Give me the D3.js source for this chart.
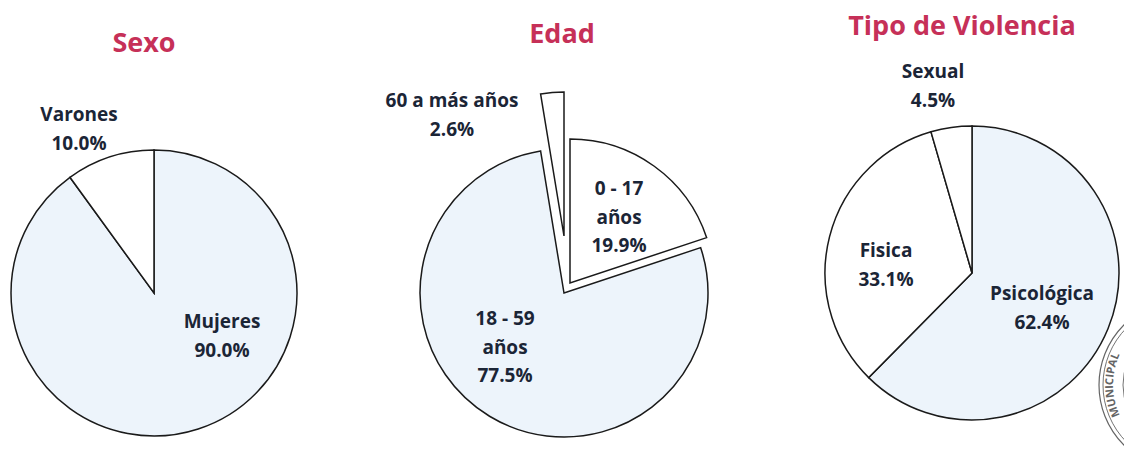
<!DOCTYPE html>
<html>
<head>
<meta charset="utf-8">
<script src="https://cdn.jsdelivr.net/npm/d3@7"></script>
<style>
  html, body { margin: 0; padding: 0; background: #ffffff; }
  svg { display: block; }
  text { font-family: "Open Sans", "DejaVu Sans", sans-serif; font-weight: 700; }
</style>
</head>
<body>
<div id="chart"></div>
<script>
// ---------- data ----------
const sexoCategories = ["Mujeres", "Varones"];
const sexoValues = [90.0, 10.0];

const edadCategories = ["0 - 17 años", "18 - 59 años", "60 a más años"];
const edadValues = [19.9, 77.5, 2.6];

const violenciaCategories = ["Psicológica", "Fisica", "Sexual"];
const violenciaValues = [62.4, 33.1, 4.5];

const chartTitles = ["Sexo", "Edad", "Tipo de Violencia"];

// ---------- layout / style ----------
const W = 1124, H = 466;
const LIGHT = "#edf4fb", WHITE = "#ffffff", STROKE = "#1a1a1a";
const TITLE_COLOR = "#c63058", LABEL_COLOR = "#1b2536";

const pies = [
  {
    title: chartTitles[0], titlePos: [144, 52],
    cats: sexoCategories, vals: sexoValues,
    cx: 154, cy: 293, r: 143,
    fills: [LIGHT, WHITE], explode: [[0, 0], [0, 0]],
    labelLines: [["Mujeres"], ["Varones"]],
    labelPos: [[222, 328], [79, 121]]
  },
  {
    title: chartTitles[1], titlePos: [562, 43],
    cats: edadCategories, vals: edadValues,
    cx: 564, cy: 293, r: 144,
    fills: [WHITE, LIGHT, WHITE], explode: [[6, -10], [0, 0], [0, -57]],
    labelLines: [["0 - 17", "años"], ["18 - 59", "años"], ["60 a más años"]],
    labelPos: [[619, 195], [505, 325], [452, 107]]
  },
  {
    title: chartTitles[2], titlePos: [962, 35],
    cats: violenciaCategories, vals: violenciaValues,
    cx: 972, cy: 273, r: 147,
    fills: [LIGHT, WHITE, WHITE], explode: [[0, 0], [0, 0], [0, 0]],
    labelLines: [["Psicológica"], ["Fisica"], ["Sexual"]],
    labelPos: [[1042, 300], [886, 257], [933, 78]]
  }
];
const LINE_H = 28.5;

const svg = d3.select("#chart").append("svg")
  .attr("width", W).attr("height", H)
  .attr("viewBox", `0 0 ${W} ${H}`);

svg.append("rect").attr("width", W).attr("height", H).attr("fill", "#ffffff");

const fmt = d3.format(".1f");

pies.forEach(p => {
  const pie = d3.pie().sort(null).value(d => d).startAngle(0).endAngle(2 * Math.PI);
  const arcs = pie(p.vals);
  const arc = d3.arc().innerRadius(0).outerRadius(p.r);

  const g = svg.append("g").attr("transform", `translate(${p.cx},${p.cy})`);

  g.selectAll("path.slice")
    .data(arcs)
    .join("path")
    .attr("class", "slice")
    .attr("d", arc)
    .attr("fill", (d, i) => p.fills[i])
    .attr("stroke", STROKE)
    .attr("stroke-width", 1.5)
    .attr("stroke-linejoin", "miter")
    .attr("transform", (d, i) => `translate(${p.explode[i][0]},${p.explode[i][1]})`);

  // title
  svg.append("text")
    .attr("x", p.titlePos[0]).attr("y", p.titlePos[1])
    .attr("text-anchor", "middle")
    .attr("fill", TITLE_COLOR)
    .attr("font-size", 27)
    .text(p.title);

  // labels
  arcs.forEach((d, i) => {
    const lines = p.labelLines[i].concat([fmt(p.vals[i]) + "%"]);
    const t = svg.append("text")
      .attr("text-anchor", "middle")
      .attr("fill", LABEL_COLOR)
      .attr("font-size", 19);
    lines.forEach((ln, k) => {
      t.append("tspan")
        .attr("x", p.labelPos[i][0])
        .attr("y", p.labelPos[i][1] + k * LINE_H)
        .text(ln);
    });
  });
});

// faint seal (scanned stamp) at right edge
const SX = 1184, SY = 385;
const seal = svg.append("g").attr("transform", `translate(${SX},${SY})`)
  .attr("fill", "none").attr("stroke", "#4a4a4a").attr("opacity", 0.85);
seal.append("circle").attr("r", 85).attr("stroke-width", 1.2);
seal.append("circle").attr("r", 81).attr("stroke-width", 0.9);
seal.append("circle").attr("r", 61).attr("stroke-width", 0.9);
const sealR = 71;
svg.append("defs").append("path")
  .attr("id", "sealPath")
  .attr("d", `M ${SX} ${SY + sealR} A ${sealR} ${sealR} 0 1 1 ${SX} ${SY - sealR} A ${sealR} ${sealR} 0 1 1 ${SX} ${SY + sealR}`);
svg.append("text")
  .attr("font-size", 11).attr("fill", "#4a4a4a").attr("opacity", 0.85)
  .append("textPath")
  .attr("href", "#sealPath")
  .attr("startOffset", "25%")
  .attr("text-anchor", "middle")
  .text("MUNICIPAL");
</script>
</body>
</html>
